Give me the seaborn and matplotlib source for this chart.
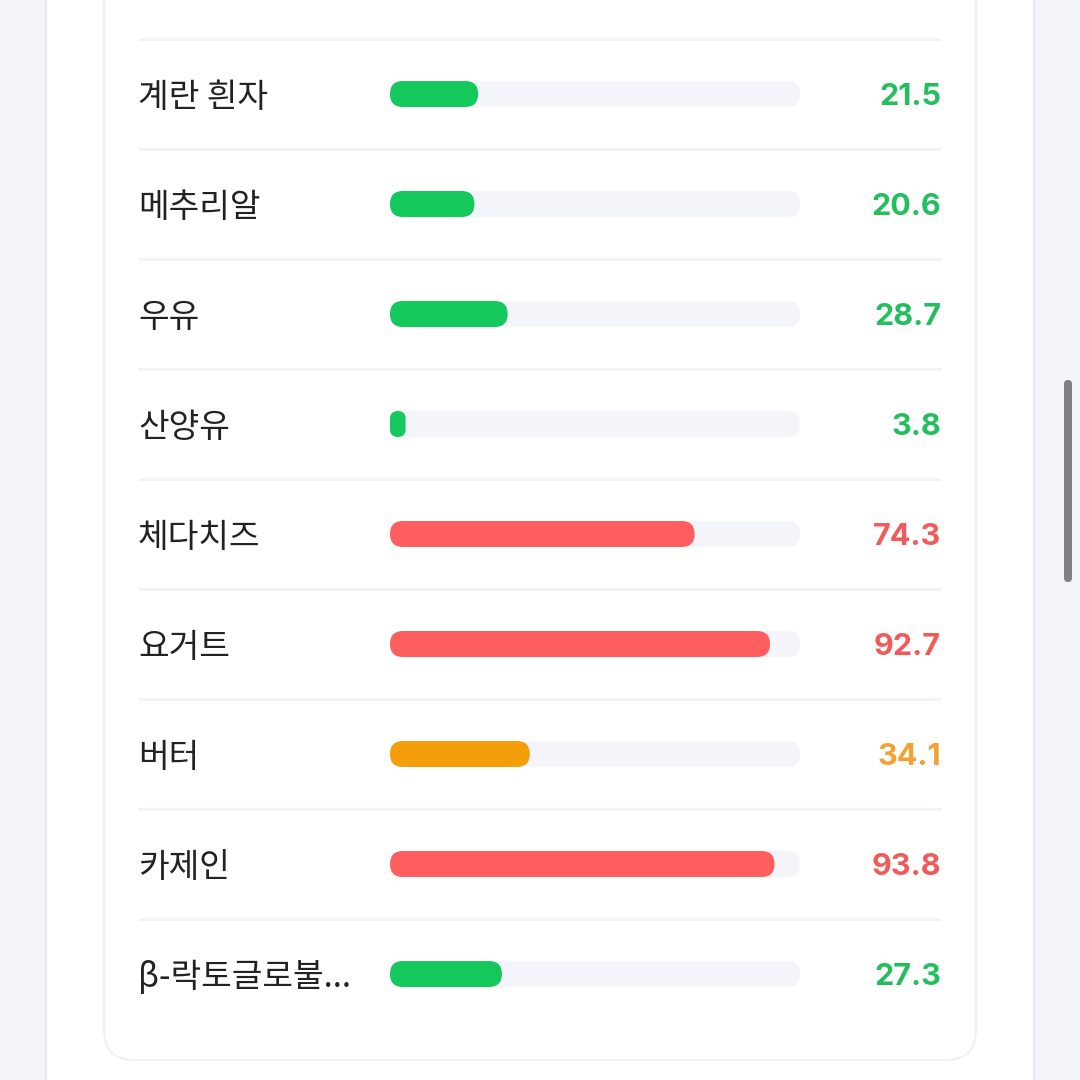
import pandas as pd
import matplotlib.pyplot as plt
import seaborn as sns
from matplotlib.patches import FancyBboxPatch, Rectangle

# values (score 0-100)
names = ["계란 흰자", "메추리알", "우유", "산양유", "체다치즈", "요거트", "버터", "카제인", "β-락토글로불..."]
scores = [21.5, 20.6, 28.7, 3.8, 74.3, 92.7, 34.1, 93.8, 27.3]
levels = ["low", "low", "low", "low", "high", "high", "mid", "high", "low"]

bar_colors = {"low": "#14c85c", "mid": "#f59e0b", "high": "#ff5e5e"}
text_colors = {"low": "#22bf5c", "mid": "#f2a132", "high": "#f25a5a"}
TRACK = "#f4f5fb"
BG = "#f3f5fb"

sns.set_theme(style="white")
plt.rcParams["font.family"] = ["Noto Sans CJK KR", "DejaVu Sans"]

df = pd.DataFrame({"name": names, "score": scores, "level": levels})
df["full"] = 100

fig = plt.figure(figsize=(10.8, 10.8), dpi=100)
fig.patch.set_facecolor(BG)

# page background, drawn in pixel-like coords
bg = fig.add_axes([0, 0, 1, 1], zorder=0)
bg.set_xlim(0, 1080)
bg.set_ylim(1080, 0)
bg.axis("off")
bg.add_patch(Rectangle((46, -5), 988, 1100, facecolor="white", edgecolor="#e6eaf5", lw=1.5))
bg.add_patch(FancyBboxPatch((104, -60), 872, 1120, boxstyle="round,pad=0,rounding_size=30",
                            facecolor="white", edgecolor="#f0f1f7", lw=1.5))
bg.add_patch(FancyBboxPatch((1064, 380), 8, 202, boxstyle="round,pad=0,rounding_size=4",
                            facecolor="#7f7f84", edgecolor="none"))

# main axes spans the track area: x 390..800 px, rows 39..1029 px
ax = fig.add_axes([390 / 1080, 1 - 1029 / 1080, 410 / 1080, 990 / 1080], zorder=1)
ax.set_facecolor("none")

bar_h = 26 / 110
sns.barplot(data=df, x="full", y="name", color=TRACK, saturation=1, width=bar_h, ax=ax)
n_track = len(ax.patches)
sns.barplot(data=df, x="score", y="name", hue="level", palette=bar_colors, saturation=1,
            dodge=False, legend=False, width=bar_h, ax=ax)

ax.set_xlim(0, 100)
ax.set_ylim(len(names) - 0.5, -0.5)

# swap the square bars for rounded ones
px_x = 410 / 100
px_y = 110
for i, p in enumerate(list(ax.patches)):
    x, y, w, h = p.get_x(), p.get_y(), p.get_width(), p.get_height()
    if w <= 0 or h <= 0:
        p.remove()
        continue
    r_px = min(13, w * px_x / 2)
    fb = FancyBboxPatch((x, y), w, h,
                        boxstyle=f"round,pad=0,rounding_size={r_px / px_x}",
                        mutation_aspect=px_x / px_y,
                        facecolor=p.get_facecolor(), edgecolor="none",
                        zorder=2 if i < n_track else 3, clip_on=False)
    p.remove()
    ax.add_patch(fb)

x_left = (138 - 390) / px_x
x_right = (941 - 390) / px_x
dy = 3 / px_y  # text sits a touch below the bar centre

# row separators
ax.hlines([k - 0.5 for k in range(len(names))], x_left, x_right,
          color="#f1f2f8", lw=2, clip_on=False, zorder=1)

for k, (nm, sc, lv) in enumerate(zip(names, scores, levels)):
    ax.text(x_left, k + dy, nm, ha="left", va="center", fontsize=24, color="#222222")
    ax.text(x_right, k + dy, f"{sc:.1f}", ha="right", va="center", fontsize=22,
            fontweight="bold", color=text_colors[lv],
            family=["Inter", "DejaVu Sans"])

ax.set_xlabel("")
ax.set_ylabel("")
ax.set_xticks([])
ax.set_yticks([])
sns.despine(ax=ax, left=True, bottom=True)

fig.savefig("out.png", dpi=100, facecolor=fig.get_facecolor())
